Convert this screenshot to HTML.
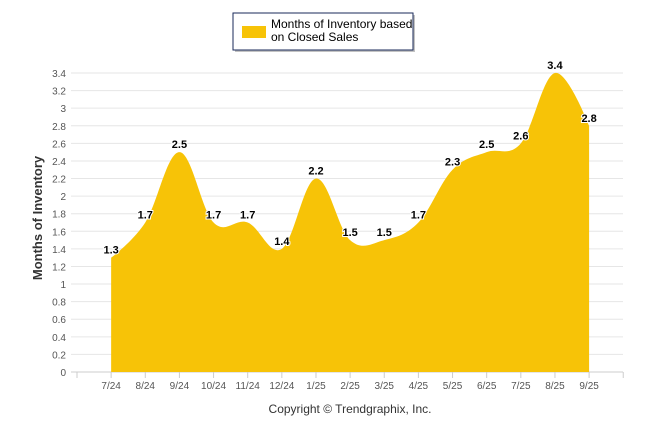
<!DOCTYPE html>
<html><head><meta charset="utf-8"><style>
body{margin:0;background:#fff;font-family:"Liberation Sans",Arial,sans-serif}
svg{display:block}
</style></head><body>
<svg width="646" height="434">
<g id="grid"></g>
<g id="yt"></g>
<path id="area" fill="#F7C307"/>
<g id="xt"></g>
<g id="lbl"></g>
<text transform="translate(42,218) rotate(-90)" text-anchor="middle" font-size="13" font-weight="bold" fill="#333">Months of Inventory</text>
<text x="350" y="413" text-anchor="middle" font-size="12" fill="#333">Copyright © Trendgraphix, Inc.</text>
<g>
<rect x="235" y="15" width="180" height="37" fill="#888" opacity="0.5"/>
<rect x="233" y="13" width="180" height="37" fill="#fff" stroke="#1a2a5a" stroke-width="1"/>
<rect x="242" y="26" width="24" height="12" fill="#F7C307"/>
<text font-size="12" fill="#000"><tspan x="271" y="28">Months of Inventory based</tspan><tspan x="271" y="41">on Closed Sales</tspan></text>
</g>
</svg>
<script>
const categories=["7/24","8/24","9/24","10/24","11/24","12/24","1/25","2/25","3/25","4/25","5/25","6/25","7/25","8/25","9/25"];
const values=[1.3,1.7,2.5,1.7,1.7,1.4,2.2,1.5,1.5,1.7,2.3,2.5,2.6,3.4,2.8];
const yTicks=[0,0.2,0.4,0.6,0.8,1,1.2,1.4,1.6,1.8,2,2.2,2.4,2.6,2.8,3,3.2,3.4];
const NS="http://www.w3.org/2000/svg";
const X=i=>77+34.14*(i+1), Y=v=>372-v*(299/3.4);
function mk(t,a,p,txt){const e=document.createElementNS(NS,t);for(const k in a)e.setAttribute(k,a[k]);if(txt!=null)e.textContent=txt;p.appendChild(e);return e;}
const grid=document.getElementById('grid'),yt=document.getElementById('yt'),xt=document.getElementById('xt'),lbl=document.getElementById('lbl');
yTicks.forEach(v=>{
 const l=mk('line',{x1:71,x2:623,y1:Y(v),y2:Y(v),stroke:v===0?'#ccc':'#e6e6e6','stroke-width':1},grid);
 
 
 const t=mk('text',{x:66,y:Y(v)+4,'text-anchor':'end','font-size':10,fill:'#555'},yt,String(v));
 
 
});
for(let k=0;k<=16;k++){const l=mk('line',{x1:77+34.14*k,x2:77+34.14*k,y1:372,y2:378,stroke:'#ccc'},xt);
 
 }
categories.forEach((c,i)=>{const t=mk('text',{x:X(i),y:389,'text-anchor':'middle','font-size':10,fill:'#555'},xt,c);
 
 });
const pts=values.map((v,i)=>[X(i),Y(v)]);
let d=`M${pts[0][0]},${Y(0)}L${pts[0][0]},${pts[0][1]}`;
function ctrl(i){const p=pts[i],a=pts[i-1],b=pts[i+1];if(!a||!b)return[p,p];
 const t=0.18;const dx=(b[0]-a[0])*t,dy=(b[1]-a[1])*t;
 return[[p[0]-dx,p[1]-dy],[p[0]+dx,p[1]+dy]];}
for(let i=1;i<pts.length;i++){const c1=ctrl(i-1)[1],c2=ctrl(i)[0];d+=`C${c1[0]},${c1[1]} ${c2[0]},${c2[1]} ${pts[i][0]},${pts[i][1]}`;}
d+=`L${pts[pts.length-1][0]},${Y(0)}Z`;
document.getElementById('area').setAttribute('d',d);
values.forEach((v,i)=>{const t=mk('text',{x:X(i),y:Y(v)-4,'text-anchor':'middle','font-size':11,'font-weight':'bold',fill:'#000',stroke:'#fff','stroke-width':2,'paint-order':'stroke'},lbl,String(v));
 
 });
</script>
</body></html>
